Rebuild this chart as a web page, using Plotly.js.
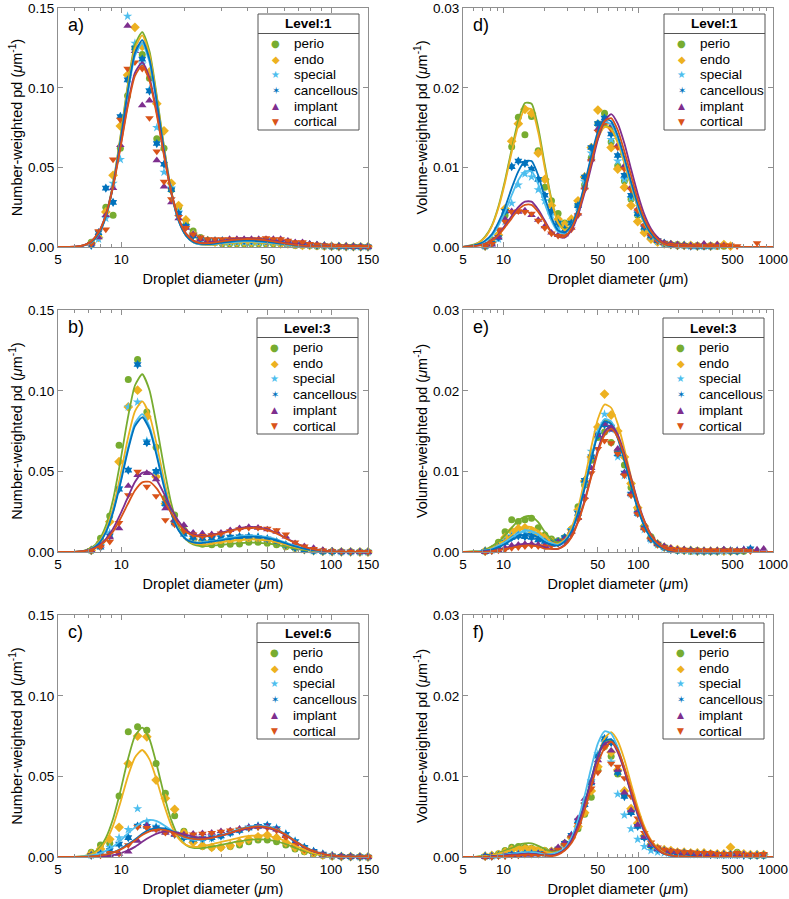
<!DOCTYPE html>
<html><head><meta charset="utf-8">
<script src="https://cdn.plot.ly/plotly-3.0.1.min.js"></script>
<style>html,body{margin:0;padding:0;background:#fff}#chart{width:789px;height:899px}</style>
</head><body><div id="chart"></div>
<script>
// ---------------- DATA ----------------
const seriesNames = ['perio','endo','special','cancellous','implant','cortical'];
const levels = ['Level:1','Level:3','Level:6'];
const xTicksLeft = [5,10,50,100,150];
const xTicksRight = [5,10,50,100,500,1000];
const yTicksLeft = [0,0.05,0.10,0.15];
const yTickTextLeft = ['0.00','0.05','0.10','0.15'];
const yTicksRight = [0,0.01,0.02,0.03];
const yTickTextRight = ['0.00','0.01','0.02','0.03'];

// size bins (droplet diameter, um)
const binsA = [7.2,7.8,8.45,9.15,9.91,10.73,11.63,12.6,13.64,14.78,16.0,17.34,18.78,20.34,22.03,23.86,25.85,28.0,30.33,32.85,35.58,38.54,41.75,45.2,49.0,53.1,57.5,62.3,67.5,73.1,79.1,85.7,92.9,100.6,109,118,127.8,138.5,150];
const binsBC = [7.2,7.97,8.82,9.77,10.81,11.97,13.25,14.67,16.24,17.98,19.9,22.03,24.39,27.0,29.89,33.09,36.63,40.55,44.89,49.69,55.0,60.9,67.4,74.6,82.6,91.4,101.2,112,124,137.3,150];
const binsR = [7.3,8.18,9.16,10.26,11.49,12.87,14.41,16.14,18.08,20.25,22.68,25.4,28.45,31.86,35.69,39.97,44.77,50.14,56.16,62.9,70.4,78.9,88.4,99,110.9,124.2,139.1,155.8,174.5,195.4,218.9,245.1,274.6,307.5,344.4,385.7,432,483.9,541.9,607,679.8,761.4,852.8];
// diameters at which the fitted curves are read
const gridL = [5,6,6.6,7.2,7.8,8.45,9.15,9.91,10.73,11.63,12.6,13.64,14.78,16.0,17.34,18.78,20.34,22.03,23.86,25.85,28.0,30.33,32.85,35.58,38.54,41.75,45.2,49.0,53.1,57.5,62.3,67.5,73.1,79.1,85.7,92.9,100.6,109,118,150];
const gridR = [5,6,6.6,7.3,8.18,9.16,10.26,11.49,12.87,14.41,16.14,18.08,20.25,22.68,25.4,28.45,31.86,35.69,39.97,44.77,50.14,56.16,62.9,70.4,78.9,88.4,99,110.9,124.2,139.1,155.8,174.5,195.4,245,300,400,1000];

// ---- a) number-weighted, Level 1 ----
const aPerio = [0.003,0.007,0.025,0.020,0.062,0.095,0.125,0.121,0.106,0.068,0.062,0.036,0.025,0.014,0.010,0.006,0.004,0.003,0.002,0.002,0.002,0.002,0.002,0.002,0.002,0.002,0.002,0.0015,0.001,0.001,0.001,0.0005,0.0005,0.0003,0.0003,0.0002,0.0002,0.0001,0.0001];
const aEndo = [0.002,0.006,0.022,0.045,0.076,0.108,0.138,0.126,0.11,0.09,0.073,0.040,0.026,0.017,0.008,0.005,0.004,0.003,0.003,0.003,0.003,0.003,0.003,0.003,0.003,0.003,0.002,0.002,0.0015,0.001,0.001,0.0008,0.0005,0.0004,0.0003,0.0002,0.0002,0.0001,0.0001];
const aSpecial = [0.002,0.005,0.018,0.040,0.055,0.145,0.128,0.115,0.099,0.075,0.047,0.037,0.022,0.013,0.008,0.005,0.003,0.003,0.003,0.003,0.003,0.003,0.003,0.003,0.003,0.003,0.003,0.002,0.002,0.0015,0.001,0.001,0.0007,0.0005,0.0004,0.0003,0.0002,0.0001,0.0001];
const aCanc = [0.001,0.009,0.037,0.028,0.082,0.105,0.125,0.118,0.098,0.065,0.052,0.036,0.021,0.013,0.007,0.005,0.004,0.004,0.004,0.004,0.004,0.004,0.004,0.004,0.004,0.004,0.003,0.003,0.002,0.002,0.0015,0.001,0.0008,0.0005,0.0004,0.0003,0.0002,0.0001,0.0001];
const aImpl = [0.002,0.006,0.020,0.037,0.064,0.139,0.123,0.089,0.092,0.0545,0.038,0.028,0.018,0.012,0.008,0.005,0.004,0.004,0.004,0.005,0.005,0.005,0.005,0.005,0.005,0.005,0.005,0.004,0.003,0.003,0.002,0.0015,0.001,0.0008,0.0005,0.0004,0.0003,0.0002,0.0001];
const aCort = [0.002,0.010,0.011,0.055,0.080,0.112,0.116,0.112,0.081,0.060,0.041,0.030,0.019,0.012,0.008,0.006,0.005,0.005,0.005,0.005,0.005,0.005,0.005,0.005,0.0055,0.005,0.005,0.004,0.003,0.003,0.002,0.0015,0.001,0.0008,0.0005,0.0004,0.0003,0.0002,0.0001];
const aPerioFit = [0,0,0.001,0.003,0.008,0.020,0.040,0.069,0.101,0.127,0.135,0.123,0.095,0.063,0.035,0.017,0.0074,0.003,0.0016,0.0014,0.0017,0.0021,0.0025,0.0028,0.003,0.003,0.0028,0.0025,0.0021,0.0016,0.0012,0.0009,0.0006,0.0004,0.0002,0.0001,0.0001,0,0,0];
const aEndoFit = [0,0,0.001,0.003,0.008,0.0196,0.039,0.068,0.0995,0.1246,0.133,0.1208,0.0935,0.0623,0.0346,0.0168,0.0073,0.003,0.0016,0.0014,0.0017,0.0021,0.0025,0.0028,0.003,0.003,0.0028,0.0025,0.0021,0.0016,0.0012,0.0009,0.0006,0.0004,0.0002,0.0001,0.0001,0,0,0];
const aSpecialFit = [0,0,0.0008,0.0028,0.0079,0.0188,0.0379,0.0653,0.0957,0.12,0.128,0.1162,0.09,0.06,0.0334,0.0163,0.0071,0.003,0.0016,0.0016,0.0019,0.0025,0.0029,0.0033,0.0035,0.0035,0.0033,0.0029,0.0024,0.0019,0.0014,0.001,0.0007,0.0004,0.0002,0.0001,0,0,0,0];
const aCancFit = [0,0,0.0008,0.0029,0.0081,0.0191,0.0385,0.0663,0.0972,0.1218,0.130,0.118,0.0914,0.0609,0.034,0.0166,0.0073,0.0031,0.0019,0.0018,0.0022,0.0028,0.0033,0.0038,0.004,0.004,0.0037,0.0033,0.0028,0.0022,0.0016,0.0011,0.0008,0.0005,0.0003,0.0002,0.0001,0,0,0];
const aImplFit = [0,0.0002,0.001,0.0036,0.0093,0.0203,0.0385,0.063,0.0892,0.1094,0.116,0.1063,0.0844,0.0583,0.0344,0.018,0.0086,0.0041,0.0026,0.0026,0.0032,0.0039,0.0046,0.0052,0.0055,0.0054,0.0051,0.0046,0.0038,0.003,0.0022,0.0016,0.001,0.0006,0.0004,0.0002,0.0001,0.0001,0,0];
const aCortFit = [0,0.0002,0.001,0.0035,0.0091,0.02,0.0378,0.0619,0.0877,0.1075,0.114,0.1044,0.0829,0.0573,0.0338,0.0177,0.0084,0.004,0.0025,0.0024,0.0029,0.0035,0.0042,0.0047,0.005,0.005,0.0047,0.0042,0.0035,0.0027,0.002,0.0014,0.0009,0.0006,0.0003,0.0002,0.0001,0,0,0];

// ---- b) number-weighted, Level 3 ----
const bPerio = [0.001,0.0085,0.0223,0.0663,0.107,0.1195,0.0868,0.065,0.0333,0.023,0.0136,0.0074,0.0048,0.0045,0.0046,0.0048,0.005,0.006,0.006,0.0055,0.0045,0.0033,0.0023,0.0015,0.001,0.0005,0.0003,0.0002,0.0001,0.0001,0];
const bEndo = [0.001,0.006,0.0188,0.056,0.090,0.1004,0.0839,0.0467,0.030,0.019,0.012,0.008,0.007,0.007,0.0072,0.0075,0.008,0.0085,0.0085,0.0075,0.006,0.004,0.0025,0.0015,0.0008,0.0004,0.0002,0.0001,0.0001,0,0];
const bSpecial = [0.001,0.004,0.012,0.040,0.090,0.093,0.069,0.050,0.028,0.018,0.012,0.009,0.009,0.0085,0.009,0.0095,0.0098,0.0098,0.0095,0.0085,0.0065,0.0045,0.0028,0.0015,0.0008,0.0004,0.0002,0.0001,0.0001,0,0];
const bCanc = [0.001,0.003,0.010,0.039,0.0508,0.1163,0.0678,0.050,0.030,0.018,0.011,0.009,0.0085,0.0085,0.009,0.0093,0.0095,0.0095,0.009,0.008,0.006,0.0042,0.0026,0.0014,0.0007,0.0004,0.0002,0.0001,0.0001,0,0];
const bImpl = [0.001,0.004,0.009,0.0147,0.041,0.0477,0.049,0.045,0.027,0.020,0.0167,0.012,0.0115,0.011,0.012,0.0135,0.0148,0.0155,0.015,0.014,0.0125,0.0095,0.0055,0.0035,0.0025,0.0012,0.0006,0.0003,0.0002,0.0001,0];
const bCort = [0.001,0.003,0.0064,0.018,0.0353,0.0498,0.0405,0.0347,0.0198,0.017,0.013,0.011,0.010,0.0105,0.0115,0.013,0.0142,0.015,0.015,0.0145,0.0135,0.011,0.006,0.0035,0.002,0.001,0.0005,0.0003,0.0002,0.0001,0];
const bPerioFit = [0,0.0001,0.0007,0.0024,0.0068,0.0162,0.0326,0.0561,0.0823,0.1033,0.1103,0.1004,0.078,0.0525,0.0299,0.0155,0.0079,0.0047,0.0037,0.0037,0.0041,0.0045,0.005,0.0054,0.0057,0.0058,0.0057,0.0053,0.0048,0.0039,0.003,0.0021,0.0014,0.0009,0.0005,0.0003,0.0002,0.0001,0,0];
const bEndoFit = [0,0.0001,0.0006,0.002,0.0058,0.0137,0.0275,0.0474,0.0696,0.0873,0.0934,0.085,0.0663,0.0448,0.026,0.0139,0.0078,0.0053,0.0047,0.0048,0.0055,0.0061,0.0067,0.0073,0.0076,0.0078,0.0076,0.0072,0.0064,0.0053,0.0041,0.0029,0.0019,0.0012,0.0007,0.0004,0.0002,0.0001,0,0];
const bSpecialFit = [0,0,0.0005,0.0019,0.0053,0.0125,0.0252,0.0434,0.0636,0.0799,0.0855,0.078,0.061,0.0415,0.0244,0.0137,0.0083,0.0062,0.0059,0.0064,0.0071,0.008,0.0088,0.0095,0.01,0.0102,0.01,0.0094,0.0084,0.0069,0.0053,0.0038,0.0024,0.0015,0.0009,0.0005,0.0003,0.0002,0.0001,0];
const bCancFit = [0,0,0.0005,0.0018,0.0051,0.0122,0.0246,0.0423,0.0621,0.0781,0.0835,0.0762,0.0594,0.0404,0.0238,0.0133,0.0079,0.0059,0.0055,0.006,0.0067,0.0074,0.0082,0.0088,0.0093,0.0095,0.0093,0.0087,0.0078,0.0065,0.0049,0.0035,0.0023,0.0014,0.0009,0.0005,0.0003,0.0001,0.0001,0];
const bImplFit = [0,0.0001,0.0006,0.0017,0.0038,0.008,0.0145,0.0235,0.0336,0.0434,0.0491,0.0495,0.0446,0.0362,0.0269,0.0191,0.0138,0.0109,0.01,0.0102,0.0111,0.0121,0.0133,0.0144,0.0152,0.0155,0.0152,0.0143,0.0127,0.0105,0.0081,0.0057,0.0037,0.0023,0.0014,0.0008,0.0005,0.0002,0.0001,0];
const bCortFit = [0,0.0001,0.0005,0.0015,0.0034,0.0071,0.0127,0.0206,0.0295,0.0381,0.0432,0.0436,0.0393,0.0321,0.0239,0.0171,0.0126,0.0103,0.0095,0.0098,0.0107,0.0117,0.0129,0.014,0.0147,0.015,0.0147,0.0138,0.0123,0.0102,0.0078,0.0056,0.0036,0.0023,0.0014,0.0008,0.0005,0.0002,0.0001,0];

// ---- c) number-weighted, Level 6 ----
const cPerio = [0.003,0.0074,0.0085,0.0378,0.0777,0.0808,0.0787,0.058,0.0395,0.0256,0.016,0.010,0.0065,0.006,0.006,0.0065,0.0075,0.0095,0.0105,0.0105,0.0095,0.0075,0.005,0.0033,0.002,0.001,0.0005,0.0003,0.0002,0.0001,0];
const cEndo = [0.002,0.005,0.011,0.0184,0.058,0.075,0.0746,0.0477,0.0364,0.0296,0.015,0.009,0.007,0.006,0.006,0.007,0.009,0.011,0.0125,0.0136,0.012,0.009,0.006,0.004,0.0025,0.0012,0.0006,0.0003,0.0002,0.0001,0];
const cSpecial = [0.001,0.003,0.006,0.012,0.017,0.030,0.022,0.019,0.016,0.015,0.013,0.012,0.011,0.0115,0.013,0.015,0.017,0.0185,0.0195,0.0198,0.018,0.0145,0.010,0.006,0.0035,0.0018,0.0008,0.0004,0.0002,0.0001,0];
const cCanc = [0.001,0.002,0.004,0.008,0.012,0.0192,0.019,0.018,0.016,0.014,0.012,0.011,0.0115,0.012,0.013,0.015,0.0165,0.018,0.019,0.0195,0.0175,0.014,0.0095,0.006,0.0035,0.0018,0.0008,0.0004,0.0002,0.0001,0];
const cImpl = [0.001,0.001,0.001,0.002,0.0033,0.010,0.0195,0.017,0.015,0.014,0.014,0.0145,0.0147,0.015,0.016,0.0165,0.0175,0.0185,0.019,0.019,0.017,0.013,0.008,0.005,0.003,0.0015,0.0007,0.0003,0.0002,0.0001,0];
const cCort = [0.001,0.001,0.0025,0.002,0.0074,0.0186,0.018,0.017,0.015,0.014,0.0135,0.014,0.0145,0.015,0.0158,0.0165,0.0172,0.018,0.0185,0.018,0.0165,0.012,0.0075,0.0045,0.0028,0.0014,0.0006,0.0003,0.0002,0.0001,0];
const cPerioFit = [0,0,0.0005,0.0018,0.005,0.0118,0.0237,0.0408,0.0598,0.075,0.0803,0.0732,0.0571,0.0387,0.0227,0.0125,0.0075,0.0056,0.0055,0.006,0.0068,0.0077,0.0086,0.0095,0.0102,0.0108,0.011,0.0108,0.0101,0.009,0.0075,0.0057,0.0041,0.0026,0.0017,0.001,0.0006,0.0003,0.0002,0];
const cEndoFit = [0,0,0.0004,0.0015,0.0041,0.0097,0.0195,0.0337,0.0494,0.0618,0.0664,0.0606,0.0475,0.0325,0.0195,0.0114,0.0075,0.0063,0.0065,0.0074,0.0084,0.0095,0.0105,0.0116,0.0126,0.0132,0.0135,0.0132,0.0124,0.0111,0.0092,0.007,0.005,0.0032,0.002,0.0012,0.0007,0.0004,0.0002,0];
const cSpecialFit = [0,0.0001,0.0004,0.001,0.002,0.0038,0.0065,0.0102,0.0144,0.0184,0.0218,0.023,0.0222,0.0197,0.0166,0.0137,0.0116,0.0106,0.0106,0.0113,0.0124,0.0138,0.0152,0.0168,0.0181,0.0191,0.0195,0.0191,0.0179,0.016,0.0133,0.0101,0.0072,0.0047,0.0029,0.0018,0.001,0.0006,0.0003,0];
const cCancFit = [0,0,0.0001,0.0003,0.0007,0.0015,0.0029,0.0049,0.0077,0.0108,0.0144,0.0169,0.018,0.0177,0.0163,0.0144,0.0126,0.0115,0.0111,0.0115,0.0124,0.0135,0.0149,0.0163,0.0177,0.0186,0.019,0.0186,0.0175,0.0156,0.0129,0.0099,0.007,0.0046,0.0029,0.0017,0.001,0.0006,0.0003,0];
const cImplFit = [0,0,0,0,0.0002,0.0006,0.0012,0.0023,0.004,0.0063,0.0094,0.0122,0.0145,0.0157,0.0157,0.015,0.0138,0.0126,0.012,0.012,0.0125,0.0135,0.0146,0.016,0.0172,0.0181,0.0185,0.0181,0.017,0.0152,0.0126,0.0096,0.0068,0.0044,0.0028,0.0017,0.0009,0.0006,0.0003,0];
const cCortFit = [0,0,0.0001,0.0003,0.0007,0.0014,0.0027,0.0046,0.0072,0.0102,0.0136,0.0159,0.017,0.0168,0.0155,0.0138,0.0122,0.0112,0.011,0.0114,0.0123,0.0135,0.0149,0.0163,0.0177,0.0186,0.019,0.0186,0.0175,0.0156,0.0129,0.0099,0.007,0.0046,0.0029,0.0017,0.001,0.0006,0.0003,0];

// ---- d) volume-weighted, Level 1 ----
const dPerio = [0.0002,0.0009,0.0015,0.004,0.0126,0.0163,0.0141,0.0164,0.0121,0.0075,0.0058,0.0042,0.003,0.0033,0.0052,0.0078,0.0112,0.0155,0.0168,0.0132,0.0102,0.0083,0.006,0.004,0.0022,0.0012,0.0007,0.0004,0.0003,0.0003,0.0002,0.0002,0.0002,0.0001,0.0002,0.0001,0.0001,null,null,null,null,null,null];
const dEndo = [0.0001,0.0006,0.0015,0.0048,0.0133,0.0155,0.0173,0.0168,0.0118,0.0085,0.0052,0.0035,0.0028,0.0035,0.0058,0.0088,0.0125,0.0172,0.0155,0.0125,0.0098,0.0075,0.0052,0.0032,0.0018,0.001,0.0006,0.0004,0.0003,0.0002,0.0002,0.0002,0.0001,0.0002,0.0001,0.0002,0.0003,0.0001,null,null,null,null,null];
const dSpecial = [0.0001,0.0004,0.001,0.0032,0.0055,0.0078,0.0092,0.0088,0.0072,0.0058,0.004,0.0025,0.0022,0.0028,0.005,0.0082,0.0118,0.0152,0.0155,0.0135,0.0108,0.0085,0.0062,0.0042,0.0025,0.0013,0.0007,0.0004,0.0003,0.0002,0.0002,0.0001,0.0001,0.0001,0.0001,0.0001,null,null,null,null,null,null,null];
const dCanc = [0.0001,0.0005,0.0012,0.0045,0.0101,0.0108,0.0105,0.0098,0.0085,0.0065,0.0045,0.003,0.0022,0.003,0.0052,0.0088,0.0125,0.0155,0.0162,0.0142,0.0115,0.009,0.0065,0.0042,0.0025,0.0014,0.0008,0.0005,0.0003,0.0002,0.0002,0.0001,0.0001,0.0001,0.0001,null,null,null,null,null,null,null,null];
const dImpl = [0.0001,0.0003,0.0012,0.0035,0.0045,0.0044,0.0046,0.004,0.0034,0.0026,0.0018,0.0015,0.0016,0.0024,0.0042,0.0075,0.011,0.0148,0.0158,0.0152,0.0128,0.0102,0.0075,0.0048,0.0028,0.0016,0.0009,0.0005,0.0004,0.0003,0.0002,0.0002,0.0002,0.0004,0.0002,0.0003,0.0002,null,null,null,null,null,null];
const dCort = [0.0001,0.0004,0.0022,0.0032,0.0044,0.0045,0.0044,0.0042,0.0033,0.0024,0.0017,0.0014,0.0015,0.0022,0.004,0.0072,0.0108,0.0145,0.0155,0.0148,0.0125,0.0098,0.0072,0.0046,0.0027,0.0015,0.0008,0.0005,0.0003,0.0002,0.0002,0.0001,0.0002,0.0001,0.0002,0.0001,0.0002,0.0002,0.0001,null,null,0.0005,null];
const dPerioFit = [0,0.0003,0.0006,0.0013,0.0027,0.0051,0.0084,0.0123,0.0159,0.0181,0.018,0.015,0.0103,0.006,0.0031,0.0022,0.0027,0.0046,0.0075,0.0108,0.0137,0.0152,0.0149,0.0132,0.0106,0.0077,0.0051,0.003,0.0016,0.0008,0.0004,0.0001,0,0,0,0,0];
const dEndoFit = [0,0.0002,0.0006,0.0012,0.0026,0.0049,0.0081,0.0119,0.0153,0.0174,0.0173,0.0144,0.0099,0.0058,0.003,0.0021,0.0027,0.0046,0.0074,0.0107,0.0136,0.0151,0.0148,0.0131,0.0105,0.0077,0.005,0.003,0.0016,0.0008,0.0003,0.0001,0,0,0,0,0];
const dSpecialFit = [0,0.0001,0.0003,0.0007,0.0014,0.0027,0.0044,0.0065,0.0084,0.0095,0.0095,0.0079,0.0054,0.0033,0.0019,0.0017,0.0026,0.0046,0.0077,0.0112,0.0141,0.0157,0.0154,0.0137,0.011,0.008,0.0052,0.0031,0.0017,0.0008,0.0004,0.0001,0,0,0,0,0];
const dCancFit = [0,0.0002,0.0004,0.0008,0.0016,0.0031,0.005,0.0074,0.0095,0.0108,0.0108,0.009,0.0062,0.0037,0.0021,0.0018,0.0027,0.0048,0.0079,0.0114,0.0145,0.0161,0.0158,0.014,0.0112,0.0082,0.0054,0.0032,0.0017,0.0008,0.0004,0.0001,0,0,0,0,0];
const dImplFit = [0,0.0001,0.0002,0.0004,0.0009,0.0016,0.0027,0.0039,0.005,0.0057,0.0057,0.0047,0.0033,0.0019,0.0013,0.0012,0.0021,0.004,0.0068,0.0101,0.0135,0.0158,0.0167,0.0155,0.013,0.0098,0.0067,0.0041,0.0023,0.0012,0.0005,0.0002,0.0001,0,0,0,0];
const dCortFit = [0,0.0001,0.0002,0.0004,0.0008,0.0015,0.0025,0.0036,0.0047,0.0053,0.0053,0.0044,0.0031,0.0018,0.0013,0.0013,0.0023,0.0043,0.0072,0.0106,0.0139,0.0158,0.0162,0.0147,0.012,0.009,0.006,0.0036,0.002,0.001,0.0004,0.0002,0.0001,0,0,0,0];

// ---- e) volume-weighted, Level 3 ----
const ePerio = [0.0001,0.0003,0.0012,0.0025,0.004,0.0038,0.004,0.0042,0.003,0.0021,0.0016,0.0014,0.0018,0.0028,0.0056,0.0083,0.0114,0.0142,0.0149,0.0136,0.0125,0.0108,0.008,0.0053,0.0032,0.0019,0.001,0.0006,0.0003,0.0002,0.0002,0.0001,0.0002,0.0001,0.0001,0.0001,0.0002,0.0001,0.0001,0.0001,null,null,null];
const eEndo = [0.0001,0.0003,0.0009,0.0018,0.0026,0.0029,0.003,0.0026,0.0022,0.0018,0.0013,0.0012,0.0016,0.0028,0.0052,0.0088,0.0118,0.0155,0.0196,0.017,0.015,0.0118,0.0085,0.0055,0.0032,0.0017,0.001,0.0006,0.0004,0.0003,0.0002,0.0002,0.0001,0.0001,0.0001,0.0001,0.0001,0.0001,null,null,null,null,null];
const eSpecial = [0.0001,0.0002,0.0006,0.0014,0.002,0.0023,0.0024,0.0022,0.0018,0.0015,0.0012,0.0012,0.0017,0.0028,0.005,0.0085,0.0125,0.0148,0.0171,0.0152,0.0118,0.0095,0.0072,0.0048,0.0028,0.0015,0.0009,0.0005,0.0003,0.0002,0.0002,0.0001,0.0001,0.0001,0.0001,0.0001,0.0001,0.0002,0.0002,0.0003,null,null,null];
const eCanc = [0.0001,0.0002,0.0006,0.0012,0.0018,0.002,0.0019,0.0018,0.0015,0.0013,0.0012,0.0013,0.0018,0.0026,0.0048,0.0089,0.0118,0.0145,0.0158,0.0155,0.0122,0.0098,0.0072,0.0048,0.003,0.0016,0.001,0.0006,0.0003,0.0002,0.0002,0.0002,0.0001,0.0001,0.0001,0.0001,0.0002,0.0001,0.0001,0.0002,0.0004,null,null];
const eImpl = [0,0.0001,0.0002,0.0005,0.0008,0.0009,0.001,0.001,0.0009,0.0008,0.0009,0.0012,0.0016,0.0025,0.0042,0.0068,0.0104,0.0145,0.0159,0.0152,0.0128,0.0098,0.0072,0.005,0.003,0.0018,0.001,0.0007,0.0005,0.0003,0.0003,0.0002,0.0002,0.0002,0.0002,0.0002,0.0003,0.0002,0.0002,0.0003,0.0002,0.0003,0.0004];
const eCort = [0,0.0001,0.0002,0.0003,0.0005,0.0006,0.0007,0.0008,0.0007,0.0007,0.0008,0.001,0.0014,0.0022,0.004,0.0065,0.0098,0.0128,0.0138,0.0135,0.0122,0.0095,0.007,0.0047,0.0028,0.0016,0.0009,0.0006,0.0004,0.0003,0.0003,0.0002,0.0002,0.0002,0.0002,0.0002,0.0002,0.0002,0.0002,0.0002,0.0001,null,null];
const ePerioFit = [0,0.0001,0.0001,0.0003,0.0007,0.0013,0.0021,0.003,0.0039,0.0044,0.0044,0.0037,0.0025,0.0016,0.0012,0.0015,0.0027,0.0048,0.008,0.0116,0.0148,0.0164,0.0161,0.0143,0.0115,0.0083,0.0055,0.0033,0.0018,0.0009,0.0004,0.0001,0,0,0,0,0];
const eEndoFit = [0,0,0.0001,0.0002,0.0005,0.0009,0.0015,0.0021,0.0028,0.0031,0.0031,0.0026,0.0019,0.0012,0.001,0.0015,0.003,0.0054,0.009,0.013,0.0165,0.0183,0.0179,0.0159,0.0128,0.0093,0.0061,0.0036,0.002,0.001,0.0004,0.0002,0.0001,0,0,0,0];
const eSpecialFit = [0,0,0.0001,0.0002,0.0004,0.0008,0.0012,0.0018,0.0023,0.0027,0.0026,0.0022,0.0015,0.0011,0.0009,0.0014,0.0026,0.0049,0.0081,0.0117,0.0149,0.0165,0.0162,0.0144,0.0115,0.0084,0.0055,0.0033,0.0018,0.0009,0.0004,0.0001,0,0,0,0,0];
const eCancFit = [0,0,0,0.0002,0.0003,0.0006,0.001,0.0015,0.0019,0.0022,0.0022,0.0018,0.0012,0.0009,0.0008,0.0013,0.0025,0.0048,0.0079,0.0115,0.0146,0.0162,0.0159,0.0141,0.0113,0.0082,0.0054,0.0032,0.0017,0.0008,0.0004,0.0001,0,0,0,0,0];
const eImplFit = [0,0,0,0.0001,0.0001,0.0003,0.0005,0.0007,0.0009,0.001,0.001,0.0008,0.0006,0.0004,0.0004,0.0009,0.0019,0.0038,0.0064,0.0095,0.0127,0.0149,0.0157,0.0146,0.0122,0.0092,0.0063,0.0039,0.0022,0.0011,0.0005,0.0002,0.0001,0,0,0,0];
const eCortFit = [0,0,0,0,0.0001,0.0002,0.0004,0.0005,0.0007,0.0008,0.0008,0.0007,0.0004,0.0004,0.0004,0.0008,0.0018,0.0037,0.0062,0.0093,0.0124,0.0145,0.0153,0.0142,0.0119,0.009,0.0061,0.0038,0.0021,0.0011,0.0005,0.0002,0.0001,0,0,0,0];

// ---- f) volume-weighted, Level 6 ----
const fPerio = [0.0001,0.0002,0.0004,0.0008,0.0012,0.0013,0.0012,0.0011,0.0009,0.0008,0.0007,0.001,0.0017,0.0025,0.0035,0.0053,0.0074,0.0108,0.0137,0.0125,0.0103,0.0077,0.0056,0.004,0.0025,0.0014,0.001,0.0008,0.0007,0.0006,0.0005,0.0005,0.0004,0.0004,0.0004,0.0003,0.0003,0.0003,0.0006,0.0003,0.0002,0.0002,0.0002];
const fEndo = [0.0001,0.0002,0.0003,0.0006,0.0009,0.001,0.001,0.0009,0.0008,0.0007,0.0007,0.0009,0.0015,0.0024,0.0038,0.0055,0.0082,0.0112,0.0138,0.013,0.0108,0.0082,0.006,0.0042,0.0026,0.0015,0.0011,0.0009,0.0008,0.0006,0.0006,0.0005,0.0005,0.0005,0.0004,0.0004,0.0004,0.0012,0.0004,0.0004,0.0003,0.0003,0.0003];
const fSpecial = [0.0001,0.0001,0.0002,0.0003,0.0004,0.0004,0.0004,0.0004,0.0004,0.0005,0.0006,0.0009,0.0015,0.0025,0.0042,0.0065,0.0095,0.0128,0.0142,0.0118,0.0078,0.0052,0.0035,0.0022,0.0013,0.0008,0.0006,0.0005,0.0004,0.0004,0.0004,0.0003,0.0003,0.0003,0.0003,0.0002,0.0002,0.0002,0.0002,0.0003,0.0002,0.0003,0.0002];
const fCanc = [0.0001,0.0001,0.0002,0.0002,0.0003,0.0003,0.0004,0.0004,0.0004,0.0005,0.0006,0.001,0.0017,0.0027,0.0045,0.0065,0.0092,0.0125,0.0147,0.0142,0.0105,0.0075,0.0055,0.0038,0.0024,0.0014,0.001,0.0008,0.0006,0.0005,0.0005,0.0004,0.0004,0.0004,0.0003,0.0003,0.0003,0.0003,0.0003,0.0002,0.0002,0.0002,0.0002];
const fImpl = [0,0.0001,0.0001,0.0002,0.0002,0.0003,0.0003,0.0003,0.0004,0.0005,0.0007,0.0012,0.0018,0.0027,0.0048,0.0072,0.0093,0.012,0.014,0.0132,0.0108,0.008,0.0058,0.004,0.0025,0.0015,0.001,0.0008,0.0007,0.0006,0.0005,0.0005,0.0004,0.0004,0.0004,0.0003,0.0003,0.0003,0.0003,0.0003,0.0002,0.0002,0.0002];
const fCort = [0,0,0.0001,0.0001,0.0002,0.0002,0.0003,0.0003,0.0003,0.0004,0.0006,0.0009,0.0015,0.0024,0.004,0.0065,0.0085,0.0105,0.0136,0.0116,0.0112,0.0098,0.0075,0.0048,0.003,0.0018,0.0012,0.0009,0.0008,0.0007,0.0006,0.0006,0.0005,0.0005,0.0005,0.0004,0.0004,0.0004,0.0005,0.0003,0.0003,0.0003,0.0004];
const fPerioFit = [0,0,0.0001,0.0001,0.0002,0.0005,0.0008,0.0011,0.0015,0.0017,0.0017,0.0014,0.001,0.0006,0.0007,0.001,0.002,0.0039,0.0066,0.0096,0.0125,0.0143,0.0145,0.0132,0.0108,0.008,0.0054,0.0033,0.0018,0.0009,0.0004,0.0002,0.0001,0,0,0,0];
const fEndoFit = [0,0,0,0.0001,0.0002,0.0004,0.0006,0.0009,0.0011,0.0013,0.0013,0.0011,0.0007,0.0005,0.0006,0.0009,0.0019,0.0037,0.0063,0.0094,0.0125,0.0147,0.0155,0.0144,0.0121,0.0091,0.0062,0.0038,0.0021,0.0011,0.0005,0.0002,0.0001,0,0,0,0];
const fSpecialFit = [0,0,0,0,0.0001,0.0002,0.0003,0.0004,0.0005,0.0006,0.0006,0.0005,0.0003,0.0004,0.0006,0.0011,0.0024,0.0046,0.0076,0.0111,0.0141,0.0156,0.0153,0.0136,0.0109,0.0079,0.0052,0.0031,0.0017,0.0008,0.0004,0.0001,0,0,0,0,0];
const fCancFit = [0,0,0,0,0.0001,0.0001,0.0002,0.0003,0.0003,0.0004,0.0004,0.0003,0.0002,0.0002,0.0004,0.0009,0.002,0.004,0.0066,0.0097,0.0126,0.0144,0.0146,0.0133,0.0109,0.0081,0.0054,0.0033,0.0018,0.0009,0.0004,0.0002,0.0001,0,0,0,0];
const fImplFit = [0,0,0,0,0.0001,0.0001,0.0002,0.0003,0.0003,0.0004,0.0004,0.0003,0.0002,0.0002,0.0004,0.0009,0.002,0.0039,0.0065,0.0095,0.0124,0.0141,0.0143,0.013,0.0107,0.0079,0.0053,0.0032,0.0018,0.0009,0.0004,0.0002,0.0001,0,0,0,0];
const fCortFit = [0,0,0,0,0,0.0001,0.0001,0.0002,0.0002,0.0003,0.0003,0.0002,0.0002,0.0001,0.0003,0.0008,0.0017,0.0034,0.0058,0.0087,0.0116,0.0135,0.0143,0.0133,0.0111,0.0084,0.0057,0.0035,0.002,0.001,0.0004,0.0002,0.0001,0,0,0,0];

// ---------------- STYLE ----------------
const W = 789, H = 899;
const FONT = 'Liberation Sans, Arial, Helvetica, sans-serif';
const colors = ['#77AC30','#EDB120','#4DBEEE','#0072BD','#7E2F8E','#D95319'];
const symbols = ['circle','diamond','star','hexagram','triangle-up','triangle-down'];
const msizes = [7,7.5,7,7,7.5,7.5];
// legend glyphs (drawn as text) and their font sizes
const glyphs = ['●','◆','★','✶','▲','▼'];
const glyphSizes = [10,10,10,10,9,9];
const frameColor = '#8f8f8f';
const legendBorder = '#555';

const panels = [
  {label:'a)', bins:binsA,  grid:gridL, pts:[aPerio,aEndo,aSpecial,aCanc,aImpl,aCort], fit:[aPerioFit,aEndoFit,aSpecialFit,aCancFit,aImplFit,aCortFit], level:levels[0], right:false, box:[58,368,8,247],   leg:[258,359,14]},
  {label:'b)', bins:binsBC, grid:gridL, pts:[bPerio,bEndo,bSpecial,bCanc,bImpl,bCort], fit:[bPerioFit,bEndoFit,bSpecialFit,bCancFit,bImplFit,bCortFit], level:levels[1], right:false, box:[58,368,310,552], leg:[257,358,318]},
  {label:'c)', bins:binsBC, grid:gridL, pts:[cPerio,cEndo,cSpecial,cCanc,cImpl,cCort], fit:[cPerioFit,cEndoFit,cSpecialFit,cCancFit,cImplFit,cCortFit], level:levels[2], right:false, box:[58,368,615,857], leg:[257,359,623]},
  {label:'d)', bins:binsR,  grid:gridR, pts:[dPerio,dEndo,dSpecial,dCanc,dImpl,dCort], fit:[dPerioFit,dEndoFit,dSpecialFit,dCancFit,dImplFit,dCortFit], level:levels[0], right:true,  box:[463,773,8,247],   leg:[664,765,14]},
  {label:'e)', bins:binsR,  grid:gridR, pts:[ePerio,eEndo,eSpecial,eCanc,eImpl,eCort], fit:[ePerioFit,eEndoFit,eSpecialFit,eCancFit,eImplFit,eCortFit], level:levels[1], right:true,  box:[463,773,310,552], leg:[663,764,318]},
  {label:'f)', bins:binsR,  grid:gridR, pts:[fPerio,fEndo,fSpecial,fCanc,fImpl,fCort], fit:[fPerioFit,fEndoFit,fSpecialFit,fCancFit,fImplFit,fCortFit], level:levels[2], right:true,  box:[463,773,615,857], leg:[663,764,623]}
];

const minorLeft = [6,7,8,9,20,30,40,60,70,80,90];
const minorRight = [6,7,8,9,20,30,40,60,70,80,90,200,300,400,600,700,800,900];

const traces = [];
const layout = {
  width: W, height: H, margin:{l:0,r:0,t:0,b:0},
  paper_bgcolor:'#fff', plot_bgcolor:'#fff',
  font:{family:FONT, color:'#000', size:13.5},
  hovermode:false, showlegend:false,
  annotations:[], shapes:[]
};
const px = v => v / W;
const py = v => 1 - v / H;

panels.forEach((p, i) => {
  const s = i === 0 ? '' : String(i+1);
  p.pts.forEach((ys, j) => {
    traces.push({
      type:'scatter', mode:'markers', x:p.bins, y:ys, name:seriesNames[j],
      xaxis:'x'+s, yaxis:'y'+s, cliponaxis:false,
      marker:{symbol:symbols[j], color:colors[j], size:msizes[j], line:{width:0}}
    });
  });
  p.fit.forEach((ys, j) => {
    traces.push({
      type:'scatter', mode:'lines', x:p.grid, y:ys, name:seriesNames[j] + ' fit',
      xaxis:'x'+s, yaxis:'y'+s, hoverinfo:'skip',
      line:{color:colors[j], width:1.8, shape:'spline', smoothing:0.6}
    });
  });
  const xt = p.right ? xTicksRight : xTicksLeft;
  layout['xaxis'+s] = {
    type:'log', domain:[px(p.box[0]), px(p.box[1])], anchor:'y'+s,
    range:[Math.log10(5), Math.log10(p.right ? 1000 : 150)],
    tickmode:'array', tickvals:xt, ticktext:xt.map(String), ticklabeloverflow:'allow',
    ticks:'inside', ticklen:5, tickwidth:1, tickcolor:frameColor,
    showline:true, linecolor:frameColor, linewidth:1, mirror:'ticks',
    showgrid:false, zeroline:false,
    minor:{tickmode:'array', tickvals:p.right ? minorRight : minorLeft, ticks:'inside', ticklen:3, tickcolor:frameColor, showgrid:false},
    tickfont:{size:13.5, color:'#000'},
    title:{text:'Droplet diameter (<i>μ</i>m)', font:{size:14.5, color:'#000'}, standoff:7}
  };
  layout['yaxis'+s] = {
    domain:[py(p.box[3]), py(p.box[2])], anchor:'x'+s,
    range:p.right ? [0,0.03003] : [0,0.15015],
    tickmode:'array', tickvals:p.right ? yTicksRight : yTicksLeft, ticktext:p.right ? yTickTextRight : yTickTextLeft, ticklabeloverflow:'allow',
    ticks:'inside', ticklen:5, tickwidth:1, tickcolor:frameColor,
    showline:true, linecolor:frameColor, linewidth:1, mirror:'ticks',
    showgrid:false, zeroline:false,
    tickfont:{size:13.5, color:'#000'},
    title:{text:(p.right ? 'Volume-weighted' : 'Number-weighted') + ' pd (<i>μ</i>m<sup>-1</sup>)', font:{size:14.5, color:'#000'}, standoff:1}
  };
  // legend box (drawn by hand to match the compact original)
  const L = p.leg[0], R = p.leg[1], T = p.leg[2], B = T + 116;
  layout.shapes.push({type:'rect', xref:'paper', yref:'paper', x0:px(L), x1:px(R), y0:py(B), y1:py(T), line:{color:legendBorder, width:1}, fillcolor:'#fff', layer:'above'});
  layout.shapes.push({type:'line', xref:'paper', yref:'paper', x0:px(L), x1:px(R), y0:py(T+19.5), y1:py(T+19.5), line:{color:legendBorder, width:1}, layer:'above'});
  layout.annotations.push({text:'<b>' + p.level + '</b>', xref:'paper', yref:'paper', x:px((L+R)/2), y:py(T+10), xanchor:'center', yanchor:'middle', showarrow:false, font:{size:13.5, color:'#000'}});
  seriesNames.forEach((nm, j) => {
    const yy = T + 29.5 + 15.7*j;
    layout.annotations.push({text:glyphs[j], xref:'paper', yref:'paper', x:px(L+17.7), y:py(yy), xanchor:'center', yanchor:'middle', showarrow:false, font:{family:'DejaVu Sans', size:glyphSizes[j], color:colors[j]}});
    layout.annotations.push({text:nm, xref:'paper', yref:'paper', x:px(L+33.5), y:py(yy), xanchor:'left', yanchor:'middle', showarrow:false, font:{size:13.5, color:'#000'}});
  });
  layout.annotations.push({text:p.label, xref:'paper', yref:'paper', x:px(p.box[0]+8), y:py(p.box[2]+17), xanchor:'left', yanchor:'middle', showarrow:false, font:{size:18, color:'#000'}});
});

Plotly.newPlot('chart', traces, layout, {staticPlot:true, displayModeBar:false});
</script>
</body></html>
